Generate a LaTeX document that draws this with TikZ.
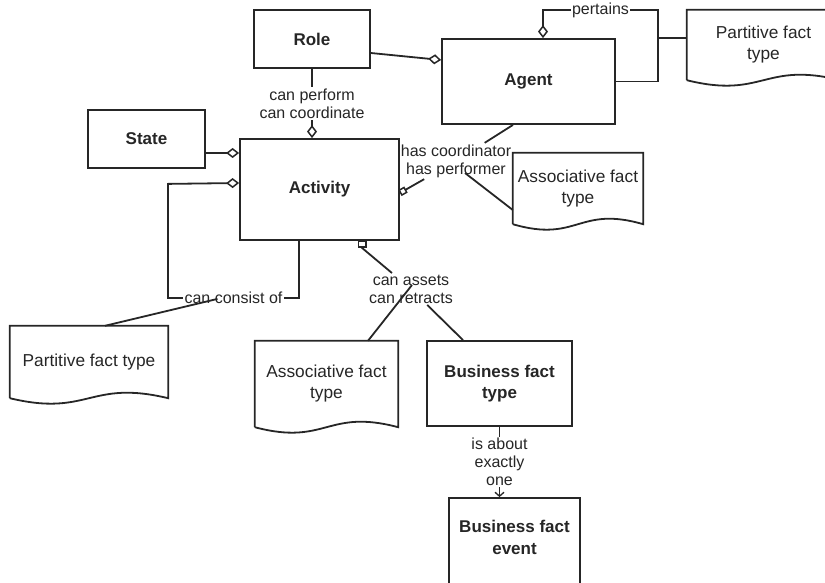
\documentclass[tikz,border=0pt]{standalone}
\usepackage{fontspec}
\setmainfont{Liberation Sans}
\usetikzlibrary{arrows.meta,calc}
\definecolor{ink}{HTML}{262626}
\tikzset{
  conn/.style={draw=ink, line width=1.8pt},
  entity/.style={draw=ink, line width=1.8pt, fill=white, text=ink,
    font=\fontsize{17}{21.5}\selectfont\bfseries, align=center, inner sep=0pt},
  doc/.style={draw=none, text=ink, font=\fontsize{17.3}{21}\selectfont,
    align=center, inner sep=0pt},
  lbl/.style={fill=white, text=ink, font=\fontsize{16}{18}\selectfont,
    align=center, inner sep=1.5pt},
  dia/.style={-{Diamond[open,length=13pt,width=10pt,line width=1.5pt]}},
  sqstart/.style={{Square[open,length=7pt,width=9pt,line width=1.5pt]}-},
  sqend/.style={-{Square[open,length=7pt,width=7pt,line width=1.5pt]}},
  barb/.style={-{Straight Barb[length=4pt,width=9pt,line width=1.3pt]}}
}
% outline of a document shape: straight top and sides, wavy bottom
\newcommand{\docoutline}[1]{%
  \draw[conn] (#1.south west) -- (#1.north west) -- (#1.north east) -- (#1.south east)
    .. controls ($(#1.south)+(0,-19)$) and ($(#1.south)+(0,19)$) .. (#1.south west);}
\begin{document}
\begin{tikzpicture}[x=1pt,y=-1pt]
\path[use as bounding box] (0,0) rectangle (825,583);
\clip (0,0) rectangle (825,583);

% entity boxes
\node[entity, minimum width=116pt, minimum height=58pt] (role) at (312,39) {Role};
\node[entity, minimum width=173pt, minimum height=85pt] (agent) at (528.5,81.5) {Agent};
\node[entity, minimum width=117pt, minimum height=58pt] (state) at (146.5,139) {State};
\node[entity, minimum width=159pt, minimum height=101pt] (activity) at (319.5,189.5) {Activity};
\node[entity, minimum width=145pt, minimum height=85pt] (bft) at (499.5,383.5) {Business fact\\type};
\node[entity, minimum width=131pt, minimum height=100pt] (bfe) at (514.5,548) {};
\node[font=\fontsize{17}{21.5}\selectfont\bfseries, text=ink, align=center] (bfetext) at (514.5,537.5) {Business fact\\event};

% document shapes
\node[doc, minimum width=153pt, minimum height=70pt] (ptop) at (763.5,45) {Partitive fact\\type};
\node[doc, minimum width=130pt, minimum height=71pt] (aright) at (578,188.5) {Associative fact\\type};
\node[doc, minimum width=158pt, minimum height=72pt] (pbl) at (89,362) {Partitive fact type};
\node[doc, minimum width=143pt, minimum height=86pt] (amid) at (326.5,384) {Associative fact\\type};
\docoutline{ptop}
\docoutline{aright}
\docoutline{pbl}
\docoutline{amid}

% free-standing relation labels
\node[lbl, fill=none] (assets) at (411,289) {can assets\\can retracts};
\node[lbl, fill=none] (hascoord) at (456,161) {has coordinator\\has performer};

% Role - Activity
\draw[conn, dia] (role.south) -- node[lbl] (perform) {can perform\\can coordinate} (activity.north -| role.south);
% Role - Agent
\draw[conn, dia] ($(role.east)+(0,14)$) -- ($(agent.west)+(0,-21.5)$);
% State - Activity
\draw[conn, dia] ($(state.east)+(0,14)$) -- ($(activity.west)+(0,-36.5)$);
% Activity consists of Activity
\draw[conn, dia] ($(activity.south)+(-20.5,0)$) -- ++(0,57)
  -- node[lbl] (consist) {can consist of} ++(-131,0) -- ++(0,-114)
  -- ($(activity.west)+(0,-6.5)$);
\draw[conn] ($(pbl.north)+(16,0)$) -- ($(consist.center)+(-16,1)$);

% Agent pertains to Agent
\coordinate (loopL) at (543,10);
\coordinate (loopR) at (658,10);
\coordinate (pj) at (658,38);
\draw[conn, dia] (agent.east) -- (agent.east -| loopR) -- (loopR)
  -- node[lbl] (pertains) {pertains} (loopL) -- (loopL |- agent.north);
\draw[conn] (ptop.west |- pj) -- (pj);

% Agent coordinates / performs Activity
\draw[conn] ($(agent.south)+(-15.5,0)$) -- (hascoord);
\draw[conn] ($(hascoord.center)+(9,12)$) -- ($(aright.west)+(0,21.5)$);
\draw[conn, sqend] (hascoord) -- ($(activity.east)+(0,3.5)$);

% Activity asserts / retracts business facts
\draw[conn, sqstart] ($(activity.south)+(42.5,0)$) -- ++(0,7) -- (assets);
\draw[conn] ($(amid.north)+(41.5,0)$) -- ($(assets.center)+(1,-4)$);
\draw[conn] ($(bft.north)+(-36.5,0)$) -- (assets);

% Business fact type - Business fact event
\draw[conn, barb] (bft.south) -- node[lbl] (about) {is about\\exactly\\one} (bft.south |- bfe.north);
\end{tikzpicture}
\end{document}
